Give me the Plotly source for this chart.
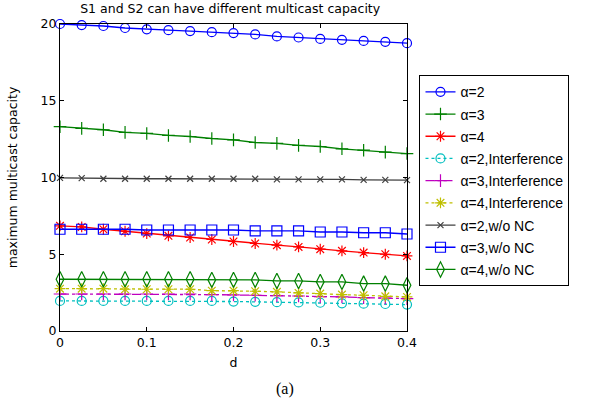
import plotly.graph_objects as go

d = [0, 0.025, 0.05, 0.075, 0.1, 0.125, 0.15, 0.175, 0.2, 0.225, 0.25, 0.275, 0.3, 0.325, 0.35, 0.375, 0.4]

a2 = [20.0, 19.93, 19.87, 19.74, 19.65, 19.6, 19.54, 19.47, 19.41, 19.32, 19.19, 19.12, 19.03, 18.97, 18.9, 18.84, 18.75]
a3 = [13.31, 13.2, 13.11, 12.94, 12.87, 12.74, 12.67, 12.54, 12.45, 12.28, 12.22, 12.09, 12.02, 11.87, 11.78, 11.65, 11.56]
a4 = [6.85, 6.78, 6.63, 6.5, 6.35, 6.2, 6.09, 5.96, 5.83, 5.7, 5.59, 5.48, 5.33, 5.22, 5.11, 5.0, 4.89]
a2_int = [1.96, 1.96, 1.96, 1.96, 1.96, 1.96, 1.96, 1.96, 1.92, 1.9, 1.88, 1.86, 1.84, 1.8, 1.78, 1.76, 1.72]
a3_int = [2.41, 2.41, 2.41, 2.41, 2.41, 2.41, 2.41, 2.37, 2.35, 2.33, 2.3, 2.28, 2.24, 2.22, 2.17, 2.15, 2.11]
a4_int = [2.76, 2.76, 2.76, 2.72, 2.72, 2.72, 2.72, 2.63, 2.63, 2.59, 2.55, 2.48, 2.44, 2.37, 2.33, 2.26, 2.22]
a2_nonc = [9.98, 9.96, 9.92, 9.92, 9.92, 9.92, 9.92, 9.92, 9.92, 9.92, 9.88, 9.88, 9.88, 9.88, 9.85, 9.85, 9.83]
a3_nonc = [6.63, 6.63, 6.63, 6.63, 6.58, 6.58, 6.58, 6.58, 6.58, 6.52, 6.52, 6.52, 6.45, 6.45, 6.4, 6.4, 6.32]
a4_nonc = [3.37, 3.37, 3.37, 3.37, 3.37, 3.37, 3.37, 3.33, 3.33, 3.33, 3.26, 3.26, 3.2, 3.2, 3.09, 3.09, 2.98]

names = ["α=2", "α=3", "α=4", "α=2,Interference", "α=3,Interference", "α=4,Interference",
         "α=2,w/o NC", "α=3,w/o NC", "α=4,w/o NC"]
series = [a2, a3, a4, a2_int, a3_int, a4_int, a2_nonc, a3_nonc, a4_nonc]
colors = ["#0000ff", "#008000", "#ff0000", "#00bfbf", "#bf00bf", "#bfbf00", "#404040", "#0000ff", "#008000"]
dashes = ["solid", "solid", "solid", "dot", "dashdot", "dot", "solid", "solid", "solid"]
symbols = ["circle-open", "cross-thin-open", "asterisk-open", "circle-open", "cross-thin-open",
           "asterisk-open", "x-thin-open", "square-open", "diamond-tall-open"]
sizes = [9, 9, 9, 9, 9, 9, 6, 10, 11]

AX_FONT = "DejaVu Sans, Liberation Sans, Arial"

fig = go.Figure()
for i, (nm, ys) in enumerate(zip(names, series)):
    fig.add_trace(go.Scatter(
        x=d, y=ys, name=nm, mode="lines+markers", cliponaxis=False,
        legendgroup=str(i),
        line=dict(color=colors[i], width=1.3, dash=dashes[i]),
        marker=dict(symbol=symbols[i], size=sizes[i], color=colors[i],
                    line=dict(color=colors[i], width=1.2)),
    ))

axis_common = dict(showline=True, linecolor="#000000", linewidth=1, mirror="ticks",
                   ticks="inside", ticklen=4, tickcolor="#000000", showgrid=False,
                   zeroline=False, tickfont=dict(family=AX_FONT, size=12.5, color="#000000"))

fig.update_layout(
    width=601, height=402,
    margin=dict(l=60, r=194, t=24, b=71),
    paper_bgcolor="#ffffff", plot_bgcolor="#ffffff",
    font=dict(family=AX_FONT, size=12.5, color="#000000"),
    title=dict(text="S1 and S2 can have different multicast capacity", x=0.383, xanchor="center",
               y=0.978, yanchor="middle", yref="container",
               font=dict(family=AX_FONT, size=12.5, color="#000000")),
    xaxis=dict(range=[0, 0.4], tickvals=[0, 0.1, 0.2, 0.3, 0.4], ticktext=["0", "0.1", "0.2", "0.3", "0.4"],
               title=dict(text="d", standoff=9, font=dict(family=AX_FONT, size=12.5)), **axis_common),
    yaxis=dict(range=[0, 20], tickvals=[0, 5, 10, 15, 20], ticktext=["0", "5", "10", "15", "20"],
               title=dict(text="maximum multicast capacity", standoff=20, font=dict(family=AX_FONT, size=12.5)),
               **axis_common),
    legend=dict(x=1.036, y=0.833, xanchor="left", yanchor="top", bordercolor="#000000", borderwidth=1,
                bgcolor="#ffffff", font=dict(family="Liberation Sans, Arial", size=14, color="#000000"),
                traceorder="grouped", tracegroupgap=1),
    showlegend=True,
    annotations=[dict(text="(a)", x=0.648, xref="paper", y=-0.19, yref="paper", yanchor="middle",
                      xanchor="center", showarrow=False,
                      font=dict(family="Liberation Serif, Times New Roman", size=16, color="#000000"))],
)

fig.write_html("out.html", config={"displayModeBar": False},
               post_script="document.body.style.margin='0';")
